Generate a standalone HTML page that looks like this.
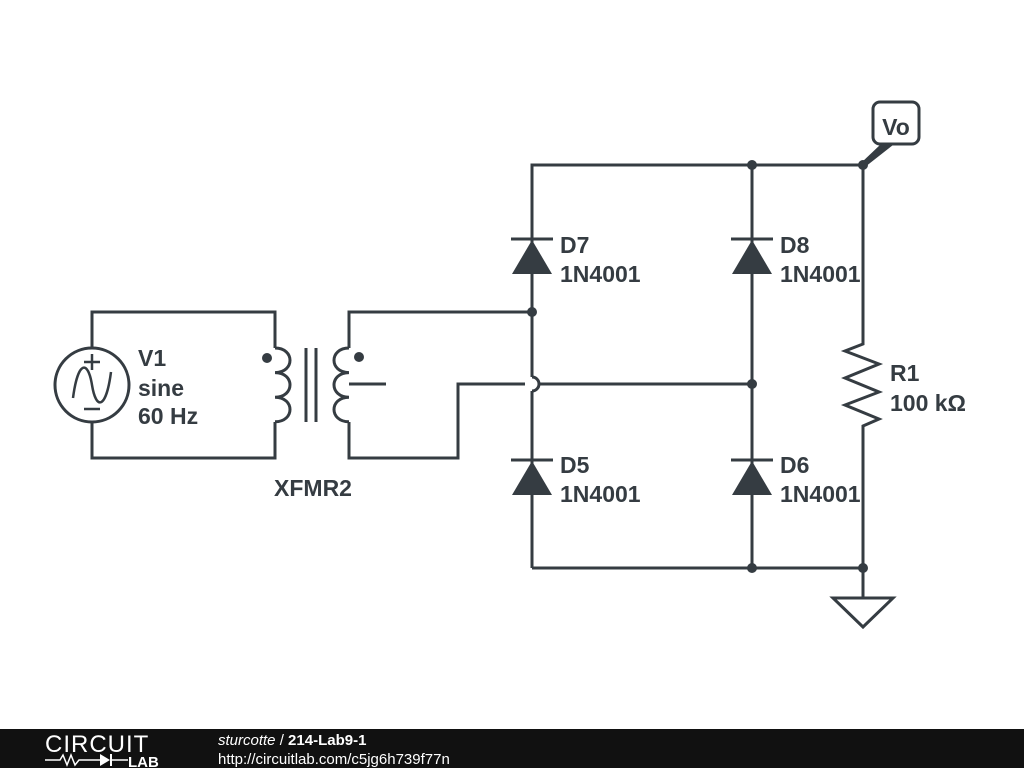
<!DOCTYPE html>
<html><head><style>
body{margin:0;width:1024px;height:768px;background:#fff;overflow:hidden}
svg{display:block}
text{font-family:"Liberation Sans",sans-serif;font-weight:bold;font-size:23px;fill:#353c42}
</style></head><body>
<svg width="1024" height="768" viewBox="0 0 1024 768">
<g stroke="#353c42" stroke-width="3" fill="none" stroke-linejoin="miter">
<polyline points="92,348 92,312 275,312 275,348"/>
<polyline points="92,422 92,458 275,458 275,422"/>
<circle cx="92" cy="385" r="37"/>
<path d="M275,348 c20,0 20,24.6 0,24.6 c20,0 20,24.6 0,24.6 c20,0 20,24.6 0,24.6"/>
<line x1="306" y1="348" x2="306" y2="422"/>
<line x1="316" y1="348" x2="316" y2="422"/>
<path d="M349,348 c-20,0 -20,24.6 0,24.6 c-20,0 -20,24.6 0,24.6 c-20,0 -20,24.6 0,24.6"/>
<polyline points="349,348 349,312 532,312"/>
<line x1="349" y1="384" x2="386" y2="384"/>
<polyline points="349,422 349,458 458,458 458,384 525,384"/>
<path d="M532,377 a7,7 0 0 1 0,14"/>
<line x1="539" y1="384" x2="752" y2="384"/>
<polyline points="532,377 532,165 863,165"/>
<line x1="532" y1="391" x2="532" y2="568"/>
<line x1="752" y1="165" x2="752" y2="568"/>
<polyline points="532,568 863,568 863,598"/>
<polyline points="863,165 863,344 845,351 879,364 845,378 879,392 845,405 879,419 863,426 863,568"/>
<polygon points="833,598 893,598 863,627"/>
<line x1="511" y1="239" x2="553" y2="239"/>
<line x1="731" y1="239" x2="773" y2="239"/>
<line x1="511" y1="460" x2="553" y2="460"/>
<line x1="731" y1="460" x2="773" y2="460"/>
<rect x="873" y="102" width="46" height="42" rx="7"/>
</g>
<g fill="#353c42">
<polygon points="532,240 512,274 552,274"/>
<polygon points="752,240 732,274 772,274"/>
<polygon points="532,461 512,495 552,495"/>
<polygon points="752,461 732,495 772,495"/>
<polygon points="861,163 865,167 893,145 881,144"/>
<circle cx="752" cy="165" r="5"/><circle cx="863" cy="165" r="5"/>
<circle cx="532" cy="312" r="5"/><circle cx="752" cy="384" r="5"/>
<circle cx="752" cy="568" r="5"/><circle cx="863" cy="568" r="5"/>
<circle cx="267" cy="358" r="5"/><circle cx="359" cy="357" r="5"/>
</g>
<g stroke="#353c42" stroke-width="2.5" fill="none">
<line x1="84" y1="362" x2="100" y2="362"/><line x1="92" y1="354" x2="92" y2="370"/>
<line x1="84" y1="409" x2="100" y2="409"/>
<path d="M73,398 C78,360 88,360 92,385 C96,410 106,410 111,372"/>
</g>
<text x="138" y="366">V1</text><text x="138" y="396">sine</text><text x="138" y="424">60 Hz</text>
<text x="313" y="496" text-anchor="middle">XFMR2</text>
<text x="560" y="253">D7</text><text x="560" y="282">1N4001</text>
<text x="780" y="253">D8</text><text x="780" y="282">1N4001</text>
<text x="560" y="473">D5</text><text x="560" y="502">1N4001</text>
<text x="780" y="473">D6</text><text x="780" y="502">1N4001</text>
<text x="890" y="381">R1</text><text x="890" y="411">100 kΩ</text>
<text x="896" y="135" text-anchor="middle">Vo</text>
<rect x="0" y="729" width="1024" height="39" fill="#111"/>
<text x="45" y="752" style="font-weight:normal;font-size:24px;fill:#fff;letter-spacing:1px">CIRCUIT</text>
<polyline points="45,760 60,760 63,755 67,765 71,755 75,765 79,760 100,760" stroke="#fff" stroke-width="1.5" fill="none"/>
<polygon points="100,754 100,766 110,760" fill="#fff"/>
<line x1="111" y1="754" x2="111" y2="766" stroke="#fff" stroke-width="2"/>
<line x1="111" y1="760" x2="128" y2="760" stroke="#fff" stroke-width="1.5"/>
<text x="128" y="767" style="font-size:15px;fill:#fff">LAB</text>
<text x="218" y="745" style="font-size:15px;fill:#fff;font-weight:normal"><tspan font-style="italic">sturcotte</tspan> / <tspan font-weight="bold">214-Lab9-1</tspan></text>
<text x="218" y="764" style="font-size:15px;fill:#fff;font-weight:normal">http://circuitlab.com/c5jg6h739f77n</text>
</svg>
</body></html>
